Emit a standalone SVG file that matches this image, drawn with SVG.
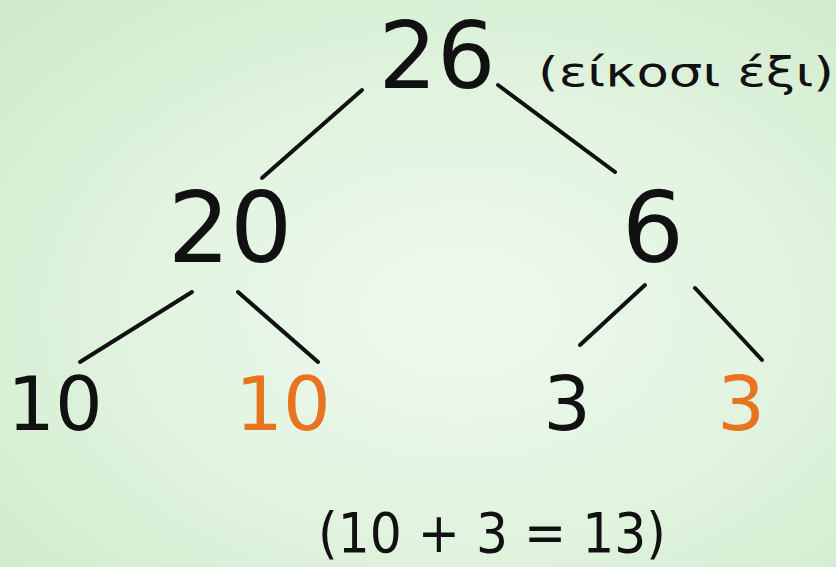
<svg xmlns="http://www.w3.org/2000/svg" width="836" height="567" viewBox="0 0 836 567">
<defs>
<radialGradient id="bg" cx="0.55" cy="0.55" r="0.75">
<stop offset="0" stop-color="#eef9ee"/>
<stop offset="0.5" stop-color="#e2f4e0"/>
<stop offset="1" stop-color="#cfeacb"/>
</radialGradient>
<style>
.n{font-family:"DejaVu Sans","Liberation Sans",sans-serif;fill:#111;text-anchor:middle}
.o{fill:#e8741f}
.e{stroke:#111;stroke-width:4;stroke-linecap:round;fill:none}
</style>
</defs>
<rect width="836" height="567" fill="url(#bg)"/>
<g id="connectors">
<line class="e" x1="362" y1="90" x2="262" y2="178"/>
<line class="e" x1="498" y1="85" x2="615" y2="172"/>
<line class="e" x1="192" y1="292" x2="80" y2="362"/>
<line class="e" x1="238" y1="292" x2="318" y2="362"/>
<line class="e" x1="645" y1="285" x2="580" y2="345"/>
<line class="e" x1="695" y1="288" x2="762" y2="360"/>
</g>
<g id="n26"><text class="n" x="437" y="88" font-size="92">26</text></g>
<g id="label26"><text class="n" x="686" y="86" font-size="40" textLength="296" lengthAdjust="spacingAndGlyphs">(είκοσι έξι)</text></g>
<g id="n20"><text class="n" x="230" y="262" font-size="98">20</text></g>
<g id="n6"><text class="n" x="653" y="262" font-size="98">6</text></g>
<g id="n10a"><text class="n" x="55" y="430" font-size="75">10</text></g>
<g id="n10b"><text class="n o" x="283" y="430" font-size="75">10</text></g>
<g id="n3a"><text class="n" x="567" y="430" font-size="75">3</text></g>
<g id="n3b"><text class="n o" x="741" y="430" font-size="75">3</text></g>
<g id="sum"><text class="n" x="492" y="552" font-size="56" textLength="348" lengthAdjust="spacingAndGlyphs">(10 + 3 = 13)</text></g>
</svg>
